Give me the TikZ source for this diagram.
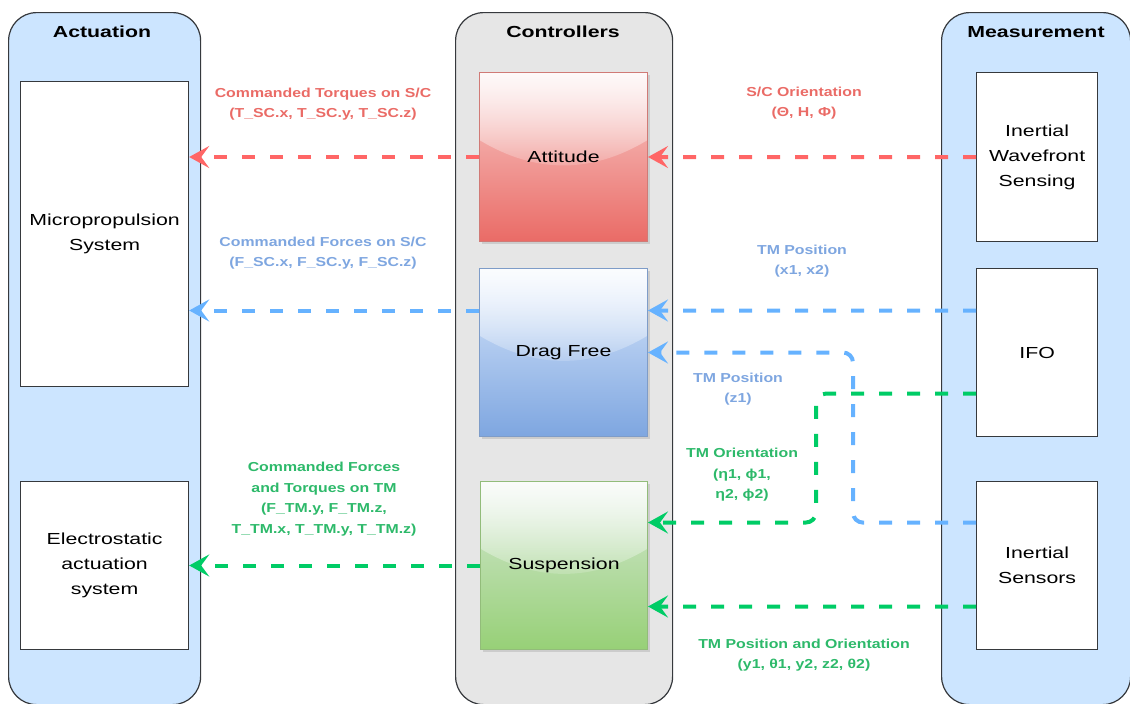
\documentclass[tikz,border=0pt]{standalone}
\usepackage{fontspec}
\setmainfont{Liberation Sans}[FakeStretch=1.33]
\newfontfamily\lblfont{Liberation Sans}[FakeStretch=1.22]
\usetikzlibrary{arrows.meta,calc,shadows,fadings}
\definecolor{laneblue}{HTML}{CCE5FF}
\definecolor{lanegray}{HTML}{E6E6E6}
\definecolor{edgec}{HTML}{36393D}
\definecolor{redA}{HTML}{FF6666}
\definecolor{redT}{HTML}{EA6B66}
\definecolor{blueA}{HTML}{66B2FF}
\definecolor{blueT}{HTML}{7EA6E0}
\definecolor{greenA}{HTML}{00CC66}
\definecolor{greenT}{HTML}{2DB96A}
\definecolor{redTop}{HTML}{F8CECC}
\definecolor{redBot}{HTML}{EA6B66}
\definecolor{redEdge}{HTML}{D07A76}
\definecolor{blueTop}{HTML}{DAE8FC}
\definecolor{blueBot}{HTML}{7EA6E0}
\definecolor{blueEdge}{HTML}{7E9CC8}
\definecolor{greenTop}{HTML}{D5E8D4}
\definecolor{greenBot}{HTML}{97D077}
\definecolor{greenEdge}{HTML}{92BC7A}
\tikzfading[name=glassfade, top color=transparent!10, bottom color=transparent!90]
\begin{document}
\begin{tikzpicture}[x=1pt,y=-1pt,
  lanebox/.style={draw=edgec, line width=1.2pt, rounded corners=28pt, anchor=north west, inner sep=0pt},
  hdr/.style={font=\bfseries\fontsize{16}{19}\selectfont, text=black},
  wbox/.style={draw=edgec, line width=1.2pt, fill=white, anchor=north west, inner sep=0pt, align=center,
     font=\fontsize{16}{25}\selectfont},
  glass/.style={path picture={
     \coordinate (gnw) at (path picture bounding box.north west);
     \coordinate (gse) at (path picture bounding box.south east);
     \fill[white, path fading=glassfade]
       (gnw) -- (gnw |- {$(gnw)!0.4!(gse)$})
       .. controls ({$(gnw)!0.333!(gse)$} |- {$(gnw)!0.6!(gse)$}) and ({$(gnw)!0.667!(gse)$} |- {$(gnw)!0.6!(gse)$})
       .. (gse |- {$(gnw)!0.4!(gse)$}) -- (gnw -| gse) -- cycle;}},
  cbox/.style={line width=1pt, anchor=north west, inner sep=0pt, align=center,
     font=\fontsize{16}{25}\selectfont, glass,
     drop shadow={opacity=0.25, shadow xshift=2pt, shadow yshift=-2pt}},
  conn/.style={line width=4pt, dash pattern=on 13pt off 15pt,
     -{Stealth[length=20pt,width=22pt,inset=8pt]}},
  lbl/.style={align=center, font=\lblfont\bfseries\fontsize{13}{20.5}\selectfont}
]
\useasboundingbox (0,0) rectangle (1130,704);
% lanes
\node[lanebox, fill=laneblue, minimum width=192pt, minimum height=692pt] (act) at (8,12) {};
\node[lanebox, fill=lanegray, minimum width=217pt, minimum height=692pt] (ctl) at (455,12) {};
\node[lanebox, fill=laneblue, minimum width=189pt, minimum height=692pt] (mea) at (941,12) {};
\node[hdr] (acth) at (102,32) {Actuation};
\node[hdr] (ctlh) at (563,32) {Controllers};
\node[hdr] (meah) at (1036,32) {Measurement};
% actuation boxes
\node[wbox, minimum width=168pt, minimum height=305pt] (MP) at (20,81) {Micropropulsion\\System};
\node[wbox, minimum width=168pt, minimum height=168pt] (ES) at (20,481) {Electrostatic\\actuation\\system};
% controller boxes
\node[cbox, draw=redEdge, top color=redTop, bottom color=redBot, minimum width=168pt, minimum height=169pt] (ATT) at (479,72) {Attitude};
\node[cbox, draw=blueEdge, top color=blueTop, bottom color=blueBot, minimum width=168pt, minimum height=168pt] (DF) at (479,268) {Drag Free};
\node[cbox, draw=greenEdge, top color=greenTop, bottom color=greenBot, minimum width=167pt, minimum height=168pt] (SUS) at (480,481) {Suspension};
% measurement boxes
\node[wbox, minimum width=121pt, minimum height=169pt] (IWS) at (976,72) {Inertial\\Wavefront\\Sensing};
\node[wbox, minimum width=121pt, minimum height=168pt] (IFO) at (976,268) {IFO};
\node[wbox, minimum width=121pt, minimum height=168pt] (IS) at (976,481) {Inertial\\Sensors};
% helper coordinates
\coordinate (ifoB) at ($(IFO.west)+(0,-42)$);
\coordinate (dfB) at ($(DF.east)+(0,-42)$);
\coordinate (dfOut) at ($(DF.west)+(0,-42)$);
\coordinate (ifoG) at ($(IFO.west)+(0,41)$);
\coordinate (isB) at ($(IS.west)+(0,-43)$);
\coordinate (isG) at ($(IS.west)+(0,41)$);
\coordinate (susIn1) at ($(SUS.east)+(0,-43)$);
\coordinate (susIn2) at ($(SUS.east)+(0,41)$);
\coordinate (bturn) at (853,0);
\coordinate (gturn) at (816,0);
% connectors
\draw[conn, redA] (IWS.west) -- (ATT.east);
\draw[conn, redA] (ATT.west) -- (ATT.west -| MP.east);
\draw[conn, blueA] (ifoB) -- (dfB);
\draw[conn, blueA] (dfOut) -- (dfOut -| MP.east);
\draw[conn, blueA, rounded corners=10pt] (isB) -| (bturn |- DF.east) -- (DF.east);
\draw[conn, greenA, rounded corners=10pt] (ifoG) -| (gturn |- susIn1) -- (susIn1);
\draw[conn, greenA] (isG) -- (susIn2);
\draw[conn, greenA] (SUS.west) -- (SUS.west -| ES.east);
% labels
\node[lbl, text=redT] (l1) at (323,104) {Commanded Torques on S/C\\(T\_SC.x, T\_SC.y, T\_SC.z)};
\node[lbl, text=redT] (l2) at (804,103) {S/C Orientation\\(Θ, H, Φ)};
\node[lbl, text=blueT] (l3) at (323,253) {Commanded Forces on S/C\\(F\_SC.x, F\_SC.y, F\_SC.z)};
\node[lbl, text=blueT] (l4) at (802,261) {TM Position\\(x1, x2)};
\node[lbl, text=blueT] (l5) at (738,389) {TM Position\\(z1)};
\node[lbl, text=greenT] (l6) at (742,475) {TM Orientation\\(η1, ϕ1,\\η2, ϕ2)};
\node[lbl, text=greenT] (l7) at (324,499) {Commanded Forces\\and Torques on TM\\(F\_TM.y, F\_TM.z,\\T\_TM.x, T\_TM.y, T\_TM.z)};
\node[lbl, text=greenT] (l8) at (804,655) {TM Position and Orientation\\(y1, θ1, y2, z2, θ2)};
\end{tikzpicture}
\end{document}
